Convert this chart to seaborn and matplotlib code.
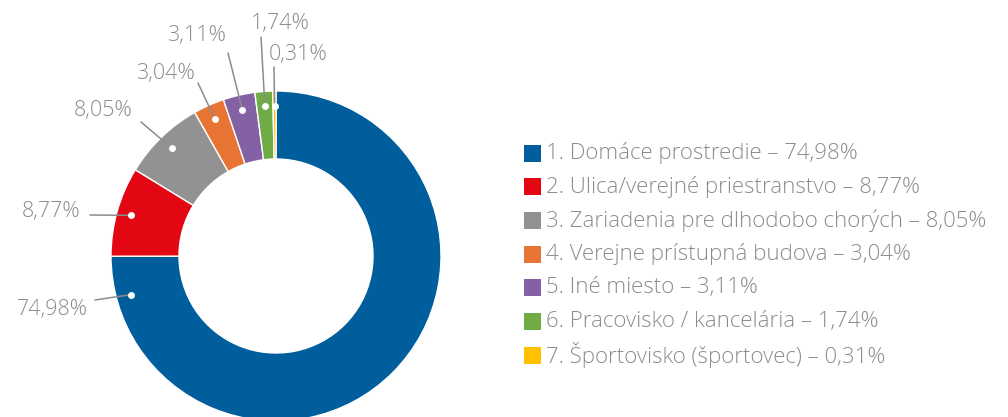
import numpy as np
import matplotlib
matplotlib.use("Agg")
import matplotlib.pyplot as plt
from matplotlib.patches import Rectangle
import seaborn as sns

# ---- data ----
categories = ["Domáce prostredie", "Ulica/verejné priestranstvo",
              "Zariadenia pre dlhodobo chorých", "Verejne prístupná budova",
              "Iné miesto", "Pracovisko / kancelária", "Športovisko (športovec)"]
values = [74.98, 8.77, 8.05, 3.04, 3.11, 1.74, 0.31]
value_labels = ["74,98%", "8,77%", "8,05%", "3,04%", "3,11%", "1,74%", "0,31%"]
colors = ["#005E9D", "#E30613", "#929292", "#E87434", "#8460A5", "#6FAC46", "#FFC000"]

# ---- layout (pixels, y measured from top) ----
label_text_pos = [(52, 310), (51, 211), (103, 110), (165, 73), (196, 35), (280, 23), (298, 54)]
label_line_start = [(95, 300), (90, 215), (141, 122), (198, 83), (228, 53), (261, 37), (274, 67)]
anchor_frac = [0.945, 0.5, 0.5, 0.5, 0.5, 0.5, 0.5]

sns.set_theme(style="white")
plt.rcParams['font.family'] = ['Open Sans', 'DejaVu Sans']

W, H = 1008, 417
fig = plt.figure(figsize=(W / 100, H / 100), dpi=100)
ax = fig.add_axes([0, 0, 1, 1])

def Y(y):
    return H - y

cx, cy, R, ring = 276, Y(256), 165, 68
ax.pie(values, colors=colors, startangle=90, counterclock=False,
       center=(cx, cy), radius=R,
       wedgeprops=dict(width=ring, edgecolor="white", linewidth=1.0))
ax.set_xlim(0, W)
ax.set_ylim(0, H)
ax.set_aspect("equal")
ax.axis("off")

txt_color = "#8C8C8C"
cum = 0.0
total = sum(values)
for i, v in enumerate(values):
    frac = (cum + v * anchor_frac[i]) / total
    theta = np.deg2rad(90 - 360 * frac)
    r_dot = 0.91 * R
    dx, dy = cx + r_dot * np.cos(theta), cy + r_dot * np.sin(theta)
    sx, sy = label_line_start[i]
    ax.plot([sx, dx], [Y(sy), dy], color="#8C8C8C", lw=1.1, zorder=3)
    ax.plot(dx, dy, "o", color="white", ms=4, zorder=4)
    tx, ty = label_text_pos[i]
    ax.text(tx, Y(ty), value_labels[i], ha="center", va="center",
            fontsize=15.5, color=txt_color, fontweight="light")
    cum += v

# legend
for i, (lab, vl) in enumerate(zip(categories, value_labels)):
    yc = 153 + i * 33.7
    ax.add_patch(Rectangle((524, Y(yc) - 8.5), 17, 17, facecolor=colors[i],
                           edgecolor="none", zorder=3))
    ax.text(546, Y(yc), f"{i + 1}. {lab} – {vl}", ha="left", va="center",
            fontsize=16, color=txt_color, fontweight="light")

fig.savefig("out.png", dpi=100)
